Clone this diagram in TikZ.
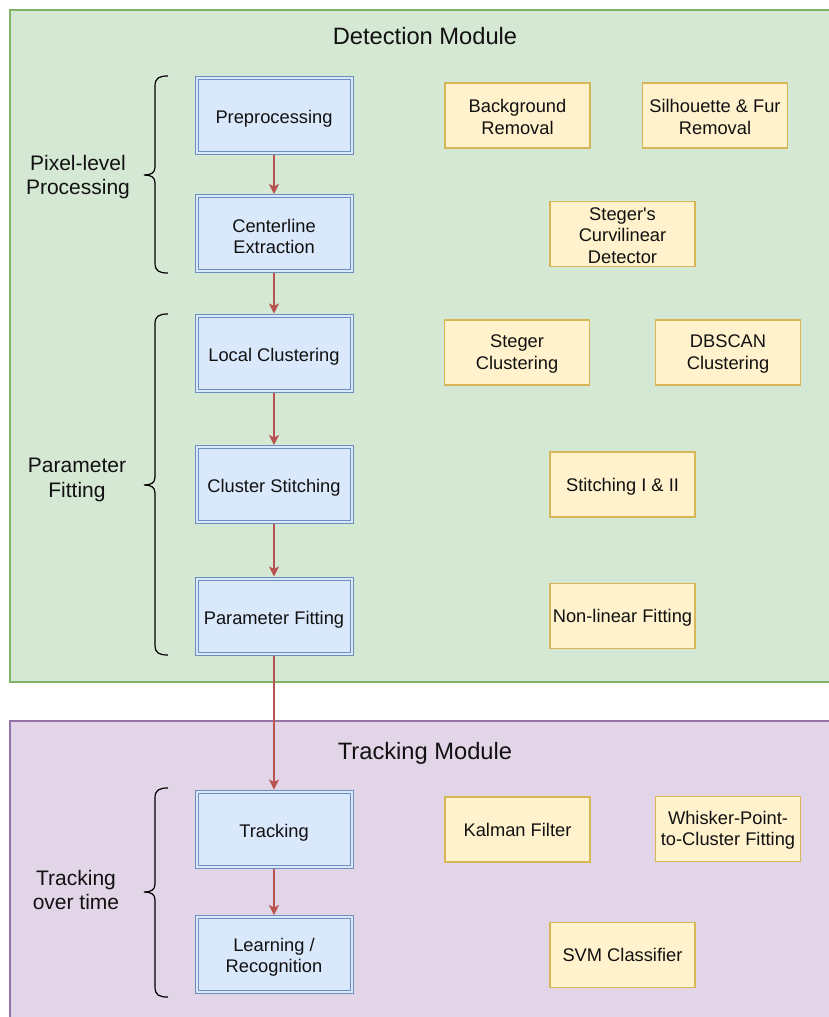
\documentclass[tikz,border=0pt]{standalone}
\usepackage{fontspec}
\setmainfont{Liberation Sans}
\newfontfamily\plainquote{Liberation Sans}
\usetikzlibrary{arrows.meta}
\definecolor{gfill}{HTML}{D5E8D4}
\definecolor{gdraw}{HTML}{82B366}
\definecolor{pfill}{HTML}{E1D5E7}
\definecolor{pdraw}{HTML}{9673A6}
\definecolor{bfill}{HTML}{DAE8FC}
\definecolor{bdraw}{HTML}{6C8EBF}
\definecolor{yfill}{HTML}{FFF2CC}
\definecolor{ydraw}{HTML}{D6B656}
\definecolor{adraw}{HTML}{B85450}
\definecolor{txt}{HTML}{111111}
\newcommand\bluelift{\rule{0pt}{20pt}}
\newcommand\bluelifttwo{\rule{0pt}{19pt}}
\newcommand\yelllift{\rule{0pt}{15.8pt}}
\newcommand\yellliftone{\rule{0pt}{17pt}}
\begin{document}
\begin{tikzpicture}[x=1pt,y=-1pt,
  panel/.style={line width=1.5pt},
  stepbox/.style={draw=bdraw, fill=bfill, line width=1pt, double=bfill, double distance=2pt,
    minimum width=155pt, minimum height=75pt, inner sep=0pt, outer sep=2pt, align=center,
    text=txt, font=\fontsize{18.3}{21.6}\selectfont},
  toolbox/.style={draw=ydraw, fill=yfill, line width=1.2pt, minimum width=145pt, minimum height=65pt,
    inner sep=0pt, align=center, text=txt, font=\fontsize{18.3}{21.6}\selectfont},
  flow/.style={draw=adraw, line width=1.3pt, -{Stealth[length=10pt,width=10pt,inset=2.5pt]}},
  title/.style={text=txt, font=\fontsize{23.7}{28}\selectfont},
  group/.style={text=txt, align=center, font=\fontsize{21}{24.5}\selectfont},
  cbrace/.style={draw=black, line width=1.2pt}
]
\useasboundingbox (0,0) rectangle (829,1017);
\clip (0,0) rectangle (829,1017);
% panels
\path[panel, draw=gdraw, fill=gfill] (10,10) rectangle (850,682);
\path[panel, draw=pdraw, fill=pfill] (10,721) rectangle (850,1040);
\node[title] (dtitle) at (425,36.5) {Detection Module};
\node[title] (ttitle) at (425,753.5) {Tracking Module};
% main steps
\node[stepbox] (pre) at (274,115.5) {\bluelift Preprocessing};
\node[stepbox] (cen) at (274,233.5) {\bluelifttwo Centerline\\Extraction};
\node[stepbox] (loc) at (274,353) {\bluelift Local Clustering};
\node[stepbox] (sti) at (274,484.5) {\bluelift Cluster Stitching};
\node[stepbox] (par) at (274,616) {\bluelift Parameter Fitting};
\node[stepbox] (trk) at (274,829) {\bluelift Tracking};
\node[stepbox] (lrn) at (274,954.5) {\bluelifttwo Learning /\\Recognition};
% tools
\node[toolbox] (bg) at (517.5,115.5) {\yelllift Background\\Removal};
\node[toolbox] (sil) at (715,115.5) {\yelllift Silhouette \& Fur\\Removal};
\node[toolbox] (scd) at (622.5,234) {\yelllift{\plainquote Steger's}\\Curvilinear\\Detector};
\node[toolbox] (scl) at (517,352.5) {\yelllift Steger\\Clustering};
\node[toolbox] (dbs) at (728,352.5) {\yelllift DBSCAN\\Clustering};
\node[toolbox] (s12) at (622.5,484.5) {\yellliftone Stitching I \& II};
\node[toolbox] (nlf) at (622.5,616) {\yellliftone Non-linear Fitting};
\node[toolbox] (kal) at (517.5,829.5) {Kalman Filter};
\node[toolbox] (wpc) at (728,829) {\yelllift Whisker-Point-\\to-Cluster Fitting};
\node[toolbox] (svm) at (622.5,955) {SVM Classifier};
% arrows
\draw[flow] (pre) -- (cen);
\draw[flow] (cen) -- (loc);
\draw[flow] (loc) -- (sti);
\draw[flow] (sti) -- (par);
\draw[flow] (par) -- (trk);
\draw[flow] (trk) -- (lrn);
% braces
\foreach \t/\m/\b in {76/175/273, 314/485/655, 788/892/997}{
  \draw[cbrace] (168,\t) .. controls (159,\t) and (155,\t+2) .. (155,\t+10)
    -- (155,\m-8) .. controls (155,\m-2) and (151,\m) .. (144,\m)
    .. controls (151,\m) and (155,\m+2) .. (155,\m+8)
    -- (155,\b-10) .. controls (155,\b-2) and (159,\b) .. (168,\b);
}
% group labels
\node[group] (g1) at (78,177) {Pixel-level\\Processing};
\node[group] (g2) at (77,480) {Parameter\\Fitting};
\node[group] (g3) at (76,890) {Tracking\\over time};
\end{tikzpicture}
\end{document}
